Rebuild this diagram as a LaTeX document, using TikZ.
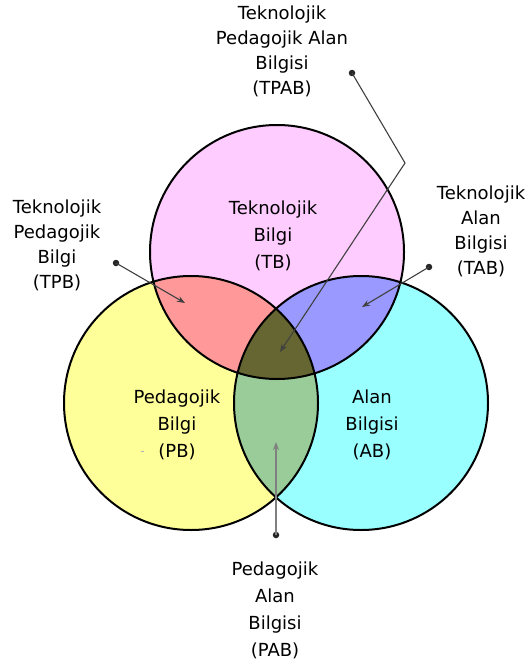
\documentclass[tikz,border=0pt]{standalone}
\usepackage{fontspec}
\setmainfont{DejaVu Sans}
\usetikzlibrary{arrows.meta}
\definecolor{cpink}{HTML}{FFCCFF}
\definecolor{cyel}{HTML}{FFFF99}
\definecolor{ccyan}{HTML}{99FFFF}
\definecolor{csalmon}{HTML}{FF9999}
\definecolor{cblue}{HTML}{9999FF}
\definecolor{cgreen}{HTML}{99CC99}
\definecolor{cdark}{HTML}{666633}
\begin{document}
\begin{tikzpicture}[x=1pt,y=-1pt,
  lbl/.style={align=center, font=\fontsize{18}{25}\selectfont, text=black, inner sep=0pt},
  lblw/.style={align=center, font=\fontsize{18}{27}\selectfont, text=black, inner sep=0pt},
  ring/.style={circle, draw=black, line width=2pt, minimum size=254pt, inner sep=0pt},
  conn/.style={draw=black!75, line width=1.1pt, -{Stealth[length=8pt,width=6pt]}},
  connl/.style={draw=black!50, line width=1.6pt, -{Stealth[length=8pt,width=6pt]}},
  dotc/.style={circle, fill=black!85, inner sep=0pt, minimum size=6.5pt}]
\useasboundingbox (0,0) rectangle (529,663);
\coordinate (cT) at (277,252);
\coordinate (cP) at (191,403);
\coordinate (cA) at (361,403);
% base fills
\fill[cpink] (cT) circle[radius=127pt];
\fill[cyel] (cP) circle[radius=127pt];
\fill[ccyan] (cA) circle[radius=127pt];
% pairwise overlaps
\begin{scope}
  \clip (cT) circle[radius=127pt];
  \fill[csalmon] (cP) circle[radius=127pt];
  \fill[cblue] (cA) circle[radius=127pt];
\end{scope}
\begin{scope}
  \clip (cP) circle[radius=127pt];
  \fill[cgreen] (cA) circle[radius=127pt];
\end{scope}
\begin{scope}
  \clip (cT) circle[radius=127pt];
  \clip (cP) circle[radius=127pt];
  \fill[cdark] (cA) circle[radius=127pt];
\end{scope}
% outlines
\node[ring] (T) at (cT) {};
\node[ring] (P) at (cP) {};
\node[ring] (A) at (cA) {};
% small mark
\draw[black!30, line width=0.8pt] (140.5,451) -- (143.5,451);
% labels inside
\node[lblw] (tb) at (273,236) {Teknolojik\\Bilgi\\(TB)};
\node[lblw] (pb) at (177,425) {Pedagojik\\Bilgi\\(PB)};
\node[lblw] (ab) at (372,425) {Alan\\Bilgisi\\(AB)};
% outer labels
\node[lbl] (tpab) at (282,51) {Teknolojik\\Pedagojik Alan\\Bilgisi\\(TPAB)};
\node[lbl] (tpb) at (57,245) {Teknolojik\\Pedagojik\\Bilgi\\(TPB)};
\node[lbl] (tab) at (481,231) {Teknolojik\\Alan\\Bilgisi\\(TAB)};
\node[lblw] (pab) at (275,610) {Pedagojik\\Alan\\Bilgisi\\(PAB)};
% connectors
\node[dotc] (d1) at (352,73) {};
\coordinate (b1) at (405,163);
\coordinate (t1) at (280,352);
\node[dotc] (d2) at (116,263) {};
\coordinate (t2) at (185,303);
\node[dotc] (d3) at (429,267) {};
\coordinate (t3) at (362,307);
\node[dotc] (d4) at (276,535) {};
\coordinate (t4) at (276,442);
\draw[conn] (d1.center) -- (b1) -- (t1);
\draw[conn] (d2.center) -- (t2);
\draw[conn] (d3.center) -- (t3);
\draw[connl] (d4.center) -- (t4);
\end{tikzpicture}
\end{document}
